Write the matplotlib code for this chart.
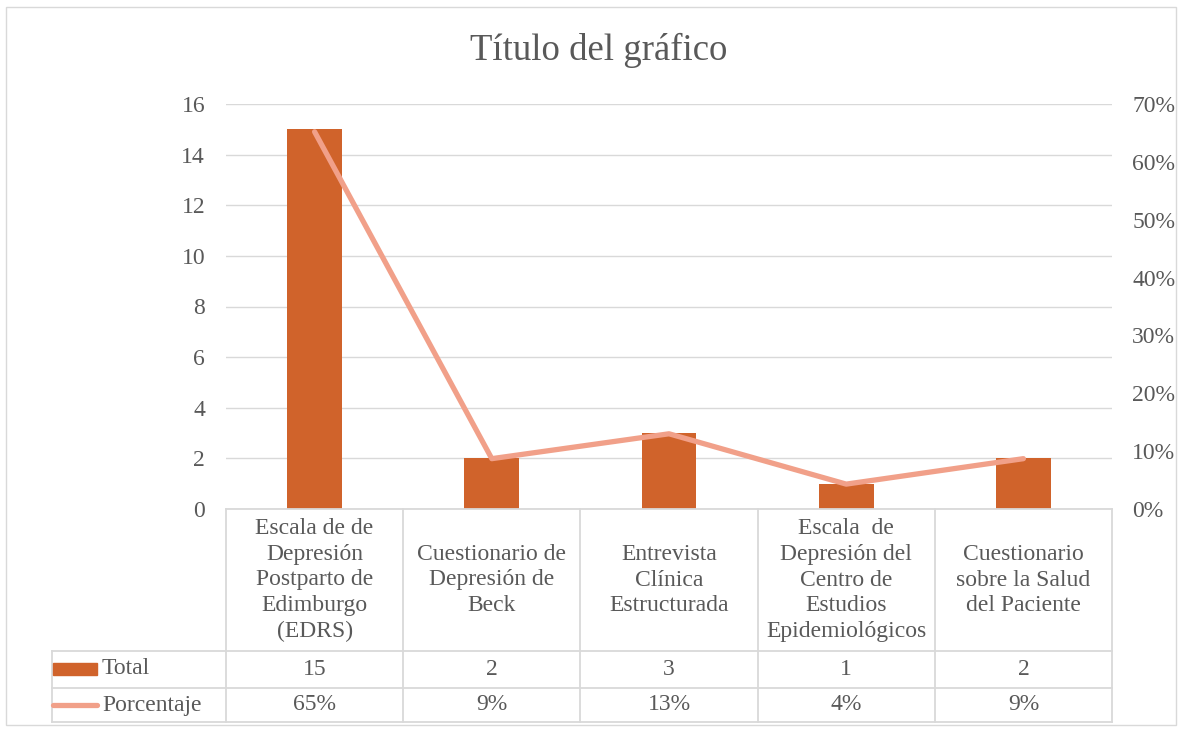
import matplotlib.pyplot as plt
import matplotlib.patches as mpatches
from matplotlib.ticker import PercentFormatter, MultipleLocator

# data
categories = ['Escala de de\nDepresión\nPostparto de\nEdimburgo\n(EDRS)',
              'Cuestionario de\nDepresión de\nBeck',
              'Entrevista\nClínica\nEstructurada',
              'Escala  de\nDepresión del\nCentro de\nEstudios\nEpidemiológicos',
              'Cuestionario\nsobre la Salud\ndel Paciente']
total = [15, 2, 3, 1, 2]
porcentaje = [0.652, 0.087, 0.130, 0.043, 0.087]
total_labels = ['15', '2', '3', '1', '2']
pct_labels = ['65%', '9%', '13%', '4%', '9%']

bar_color = '#D0632B'
line_color = '#F1A089'
grid_color = '#D9D9D9'
text_color = '#595959'
fs = 17
plt.rcParams['font.family'] = ['Liberation Serif', 'DejaVu Serif']

W, H = 1183, 732
fig = plt.figure(figsize=(W / 100, H / 100), dpi=100)

# chart area border
fig.patches.append(mpatches.Rectangle((6 / W, 7 / H), (1176 - 6) / W, (725 - 7) / H,
                                      transform=fig.transFigure, fill=False,
                                      edgecolor=grid_color, lw=1))

ax = fig.add_axes([226 / W, 1 - 509 / H, (1112 - 226) / W, 405 / H])
x = list(range(len(categories)))
ax.bar(x, total, width=0.31, color=bar_color, zorder=2)
ax.set_xlim(-0.5, len(categories) - 0.5)
ax.set_ylim(0, 16)
ax.yaxis.set_major_locator(MultipleLocator(2))
ax.grid(axis='y', color=grid_color, lw=1, zorder=0)
ax.set_xticks([])
for s in ax.spines.values():
    s.set_visible(False)
ax.tick_params(axis='y', length=0, pad=15, labelsize=fs, labelcolor=text_color)

ax2 = ax.twinx()
ax2.plot(x, porcentaje, color=line_color, lw=3.8, solid_capstyle='round', zorder=3)
ax2.set_ylim(0, 0.7)
ax2.yaxis.set_major_locator(MultipleLocator(0.1))
ax2.yaxis.set_major_formatter(PercentFormatter(1.0, decimals=0))
for s in ax2.spines.values():
    s.set_visible(False)
ax2.tick_params(axis='y', length=0, pad=14.5, labelsize=fs, labelcolor=text_color)

# data table below the plot
tr = ax.get_xaxis_transform()
y_cat = -(651 - 509) / 405
y_tot = -(688 - 509) / 405
y_pct = -(722 - 509) / 405
x_left = -0.5 + (52 - 226) / 177
x_right = len(categories) - 0.5
lk = dict(color=grid_color, lw=1.3, transform=tr, clip_on=False)

ax.plot([-0.5, x_right], [0, 0], **lk)
for yy in (y_cat, y_tot, y_pct):
    ax.plot([x_left, x_right], [yy, yy], **lk)
for i in range(len(categories) + 1):
    ax.plot([i - 0.5, i - 0.5], [0, y_pct], **lk)
ax.plot([x_left, x_left], [y_cat, y_pct], **lk)

for i, cat in enumerate(categories):
    ax.text(i, y_cat / 2, cat, transform=tr, ha='center', va='center',
            fontsize=fs, color=text_color, linespacing=1.3)
    ax.text(i, (y_cat + y_tot) / 2, total_labels[i], transform=tr, ha='center',
            va='center', fontsize=fs, color=text_color)
    ax.text(i, (y_tot + y_pct) / 2, pct_labels[i], transform=tr, ha='center',
            va='center', fontsize=fs, color=text_color)

# legend keys in first column
fig.patches.append(mpatches.Rectangle((53 / W, 1 - 675 / H), 44 / W, 12 / H,
                                      transform=fig.transFigure, color=bar_color))
fig.lines.append(plt.Line2D([53 / W, 97 / W], [1 - 705 / H, 1 - 705 / H],
                            transform=fig.transFigure, color=line_color, lw=3.8,
                            solid_capstyle='round'))
fig.text(102 / W, 1 - 669 / H, 'Total', ha='left', va='center', fontsize=fs,
         color=text_color)
fig.text(102 / W, 1 - 705 / H, 'Porcentaje', ha='left', va='center', fontsize=fs,
         color=text_color)

fig.text(599 / W, 1 - 50 / H, 'Título del gráfico', ha='center', va='center',
         fontsize=26.5, color=text_color)

fig.savefig('out.png', dpi=100, facecolor='white')
